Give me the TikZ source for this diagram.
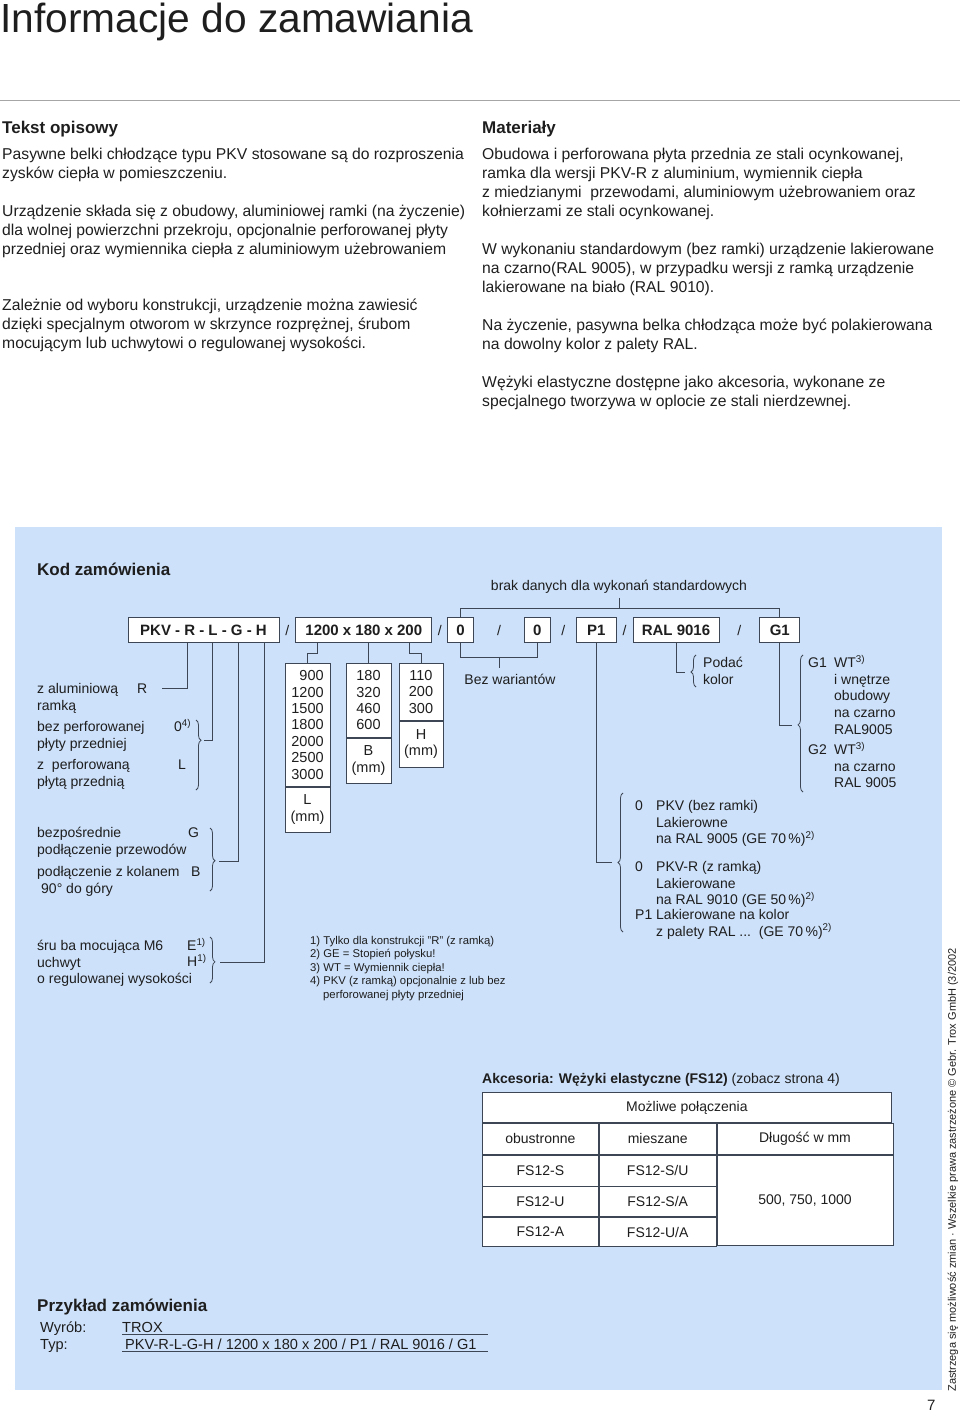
\documentclass[tikz,border=0pt]{standalone}
\usepackage{fontspec}
\setmainfont{Liberation Sans}
\usetikzlibrary{positioning,calc,decorations.pathreplacing}

\definecolor{panel}{RGB}{205,225,250}
\definecolor{ink}{RGB}{30,30,30}
\definecolor{wirec}{RGB}{60,70,85}

\begin{document}
\begin{tikzpicture}[
  x=1pt, y=-1pt,
  every node/.style={inner sep=0pt, text=ink},
  pagetitle/.style={anchor=base west, font=\fontsize{40.7}{44}\selectfont},
  head/.style={anchor=base west, font=\fontsize{17}{20}\selectfont\bfseries},
  para/.style={anchor=north west, align=left, font=\fontsize{15.7}{19}\selectfont},
  item/.style={anchor=north west, align=left, font=\fontsize{14}{16.7}\selectfont},
  ltr/.style={anchor=base west, font=\fontsize{14}{16.7}\selectfont},
  lbl/.style={font=\fontsize{14}{16.7}\selectfont},
  slash/.style={font=\fontsize{14}{16}\selectfont},
  codebox/.style={draw=wirec, fill=white, line width=0.8pt, minimum height=25pt, minimum width=#1, font=\fontsize{15}{18}\selectfont\bfseries},
  codebox/.default=26pt,
  valbox/.style={draw=wirec, fill=white, line width=0.8pt, anchor=north, align=center, minimum width=#1, font=\fontsize{14.5}{16.4}\selectfont},
  valbox/.default=45pt,
  wire/.style={draw=wirec, line width=0.8pt},
  brc/.style={draw=wirec, line width=0.8pt, decorate, decoration={brace, amplitude=5pt, aspect=#1}},
  brc/.default=0.5,
  note/.style={anchor=north west, align=left, font=\fontsize{11.3}{13.5}\selectfont},
  cell/.style={draw=wirec, fill=white, line width=0.8pt, anchor=north west, minimum width=#1, font=\fontsize{14}{17}\selectfont},
  cell/.default=116pt,
  exl/.style={anchor=base west, font=\fontsize{14.6}{18}\selectfont},
]
\useasboundingbox (0,0) rectangle (960,1412);

% Page title
\node[pagetitle] (ttl) at (0,33) {Informacje do zamawiania};
\draw[black!35, line width=0.6pt] (0,100) -- (960,100);

% Description, left column
\node[head] (desc) at (2,134) {Tekst opisowy};
\node[para] (desc1) at (2,148) {Pasywne belki chłodzące typu PKV stosowane są do rozproszenia\\zysków ciepła w pomieszczeniu.};
\node[para] (desc2) at (2,205) {Urządzenie składa się z obudowy, aluminiowej ramki (na życzenie)\\dla wolnej powierzchni przekroju, opcjonalnie perforowanej płyty\\przedniej oraz wymiennika ciepła z aluminiowym użebrowaniem};
\node[para] (desc3) at (2,299) {Zależnie od wyboru konstrukcji, urządzenie można zawiesić\\dzięki specjalnym otworom w skrzynce rozprężnej, śrubom\\mocującym lub uchwytowi o regulowanej wysokości.};

% Materials, right column
\node[head] (mat) at (482,134) {Materiały};
\node[para] (mat1) at (482,148) {Obudowa i perforowana płyta przednia ze stali ocynkowanej,\\ramka dla wersji PKV-R z aluminium, wymiennik ciepła\\z miedzianymi\ \ przewodami, aluminiowym użebrowaniem oraz\\kołnierzami ze stali ocynkowanej.};
\node[para] (mat2) at (482,243) {W wykonaniu standardowym (bez ramki) urządzenie lakierowane\\na czarno(RAL 9005), w przypadku wersji z ramką urządzenie\\lakierowane na biało (RAL 9010).};
\node[para] (mat3) at (482,319) {Na życzenie, pasywna belka chłodząca może być polakierowana\\na dowolny kolor z palety RAL.};
\node[para] (mat4) at (482,376) {Wężyki elastyczne dostępne jako akcesoria, wykonane ze\\specjalnego tworzywa w oplocie ze stali nierdzewnej.};

% Order code panel
\fill[panel] (15,527) rectangle (942,1390);
\node[head] (kod) at (37,575) {Kod zamówienia};

% Code boxes
\node[codebox=151pt] (pkv) at (203.5,630) {PKV - R - L - G - H};
\node[codebox=136pt, right=16pt of pkv] (dims) {1200 x 180 x 200};
\node[codebox, right=15pt of dims] (z1) {0};
\node[codebox, right=50pt of z1] (z2) {0};
\node[codebox=40pt, right=25pt of z2] (p1) {P1};
\node[codebox=86pt, right=16pt of p1] (ral) {RAL 9016};
\node[codebox=40pt, right=40pt of ral] (g1) {G1};
\node[slash] (sl1) at ($(pkv.east)!0.5!(dims.west)$) {/};
\node[slash] (sl2) at ($(dims.east)!0.5!(z1.west)$) {/};
\node[slash] (sl3) at ($(z1.east)!0.5!(z2.west)$) {/};
\node[slash] (sl4) at ($(z2.east)!0.5!(p1.west)$) {/};
\node[slash] (sl5) at ($(p1.east)!0.5!(ral.west)$) {/};
\node[slash] (sl6) at ($(ral.east)!0.5!(g1.west)$) {/};

% Standard version bracket
\node[lbl] (brak) at (619,587) {brak danych dla wykonań standardowych};
\coordinate (stdbar) at (617,608);
\draw[wire] (z1.north) |- (stdbar -| g1.north) -- (g1.north);
\draw[wire] ([yshift=-4pt]brak.south) -- (brak.south |- stdbar);

% Type options
\node[item] (iR) at (37,683) {z aluminiową\\ramką};
\node[ltr] (cR) at (137,693.5) {R};
\node[item] (i0) at (37,721) {bez perforowanej\\płyty przedniej};
\node[ltr] (c0) at (174,731.5) {0\textsuperscript{4)}};
\node[item] (iL) at (37,759) {z\ \ perforowaną\\płytą przednią};
\node[ltr] (cL) at (178,769.5) {L};
\node[item] (iG) at (37,827) {bezpośrednie\\podłączenie przewodów};
\node[ltr] (cG) at (188,837.5) {G};
\node[item] (iB) at (37,866) {podłączenie z kolanem\\\hspace*{4pt}90° do góry};
\node[ltr] (cB) at (191,876.5) {B};
\node[item] (iE) at (37,940) {śru ba mocująca M6\\uchwyt\\o regulowanej wysokości};
\node[ltr] (cE) at (187,950.5) {E\textsuperscript{1)}};
\node[ltr] (cH) at (187,966.5) {H\textsuperscript{1)}};

\draw[brc=0.29] (196,720) -- (196,790);
\draw[brc=0.52] (210,828) -- (210,891);
\draw[brc=0.54] (210,937) -- (210,983);
\coordinate (rEnd) at (162,688);
\coordinate (lEnd) at (204,740);
\coordinate (gEnd) at (219,861);
\coordinate (hEnd) at (220,962);
\draw[wire] (rEnd) -| ($(pkv.south west)+(60,0)$);
\draw[wire] (lEnd) -| ($(pkv.south west)+(85,0)$);
\draw[wire] (gEnd) -| ($(pkv.south west)+(111,0)$);
\draw[wire] (hEnd) -| ($(pkv.south west)+(137,0)$);

% Dimensions
\node[valbox, minimum height=123pt, align=right] (lenv) at (307.5,663) {900\\1200\\1500\\1800\\2000\\2500\\3000};
\node[valbox, minimum height=45pt, below=0pt of lenv] (lenu) {L\\(mm)};
\node[valbox, minimum height=74pt] (widv) at (368.5,663) {180\\320\\460\\600};
\node[valbox, minimum height=45pt, below=0pt of widv] (widu) {B\\(mm)};
\node[valbox=44pt, minimum height=57pt] (hgtv) at (421,663) {110\\200\\300};
\node[valbox=44pt, minimum height=46pt, below=0pt of hgtv] (hgtu) {H\\(mm)};
\draw[wire] ($(dims.south west)+(22,0)$) -- ++(0,10) -| (lenv.north);
\draw[wire] (dims.south -| widv.north) -- (widv.north);
\draw[wire] ($(dims.south west)+(114,0)$) -- ++(0,10) -| (hgtv.north);

% No variants
\draw[wire] (z1.south) -- ++(0,14) -| (z2.south);
\draw[wire] ($(z1.south)!0.5!(z2.south)+(0,14)$) -- ++(0,11);
\node[lbl] (bez) at (510,679) {Bez wariantów};

% Front plate finish
\coordinate (p1End) at (612,862);
\draw[wire] (p1.south) |- (p1End);
\draw[brc=0.5] (623,932) -- (623,793);
\node[ltr] (c0a) at (635,810.5) {0};
\node[item] (t0a) at (656,800) {PKV (bez ramki)\\Lakierowne\\na RAL 9005 (GE 70\,\%)\textsuperscript{2)}};
\node[ltr] (c0b) at (635,871.5) {0};
\node[item] (t0b) at (656,861) {PKV-R (z ramką)\\Lakierowane\\na RAL 9010 (GE 50\,\%)\textsuperscript{2)}};
\node[ltr] (cP1) at (635,919.5) {P1};
\node[item] (tP1) at (656,909) {Lakierowane na kolor\\z palety RAL ...\ \ (GE 70\,\%)\textsuperscript{2)}};

% Colour
\coordinate (ralEnd) at (685,672);
\draw[wire] (ral.south) |- (ralEnd);
\draw[brc=0.47] (696,687) -- (696,655);
\node[item] (tRAL) at (703,657) {Podać\\kolor};

% Heat exchanger colour
\coordinate (g1End) at (792,725);
\draw[wire] (g1.south) |- (g1End);
\draw[brc=0.49] (803,792) -- (803,655);
\node[ltr] (cG1) at (808,667.5) {G1};
\node[item] (tG1) at (834,655) {WT\textsuperscript{3)}\\i wnętrze\\obudowy\\na czarno\\RAL9005};
\node[ltr] (cG2) at (808,754.5) {G2};
\node[item] (tG2) at (834,742) {WT\textsuperscript{3)}\\na czarno\\RAL 9005};

% Footnotes
\node[note] (fn) at (310,936) {1) Tylko dla konstrukcji "R" (z ramką)\\2) GE = Stopień połysku!\\3) WT = Wymiennik ciepła!\\4) PKV (z ramką) opcjonalnie z lub bez\\\hspace*{13pt}perforowanej płyty przedniej};

% Accessories table
\node[anchor=base west, font=\fontsize{14}{17}\selectfont] (acc) at (482,1083) {\textbf{Akcesoria: Wężyki elastyczne (FS12)} (zobacz strona 4)};
\node[cell=409pt, minimum height=30pt] (tcon) at (482,1092) {Możliwe połączenia};
\node[cell, minimum height=31pt] (tboth) at (tcon.south west) {obustronne};
\node[cell=117pt, minimum height=31pt] (tmix) at (tboth.north east) {mieszane};
\node[cell=176pt, minimum height=31pt] (tlen) at (tmix.north east) {Długość w mm};
\node[cell, minimum height=31pt] (ra1) at (tboth.south west) {FS12-S};
\node[cell=117pt, minimum height=31pt] (rb1) at (ra1.north east) {FS12-S/U};
\node[cell, minimum height=30pt] (ra2) at (ra1.south west) {FS12-U};
\node[cell=117pt, minimum height=30pt] (rb2) at (ra2.north east) {FS12-S/A};
\node[cell, minimum height=29pt] (ra3) at (ra2.south west) {FS12-A};
\node[cell=117pt, minimum height=29pt] (rb3) at (ra3.north east) {FS12-U/A};
\node[cell=176pt, minimum height=90pt] (rlen) at (rb1.north east) {500, 750, 1000};

% Order example
\node[head] (ex) at (37,1311) {Przykład zamówienia};
\node[exl] (wyr) at (40,1332) {Wyrób:};
\node[exl] (trox) at (122,1332) {TROX};
\node[exl] (typ) at (40,1349) {Typ:};
\node[exl] (typv) at (122,1349) {\hspace*{3pt}PKV-R-L-G-H / 1200 x 180 x 200 / P1 / RAL 9016 / G1};
\draw[wire] ([yshift=-2pt]trox.base west) -- ++(366,0);
\draw[wire] ([yshift=-2pt]typv.base west) -- ++(366,0);

% Margin notes
\node[rotate=90, font=\fontsize{11}{13}\selectfont] (legal) at (953,1170) {Zastrzega się możliwość zmian · Wszelkie prawa zastrzeżone © Gebr. Trox GmbH (3/2002};
\node[anchor=base west, font=\fontsize{15}{18}\selectfont] (pgno) at (927,1410) {7};
\end{tikzpicture}
\end{document}
